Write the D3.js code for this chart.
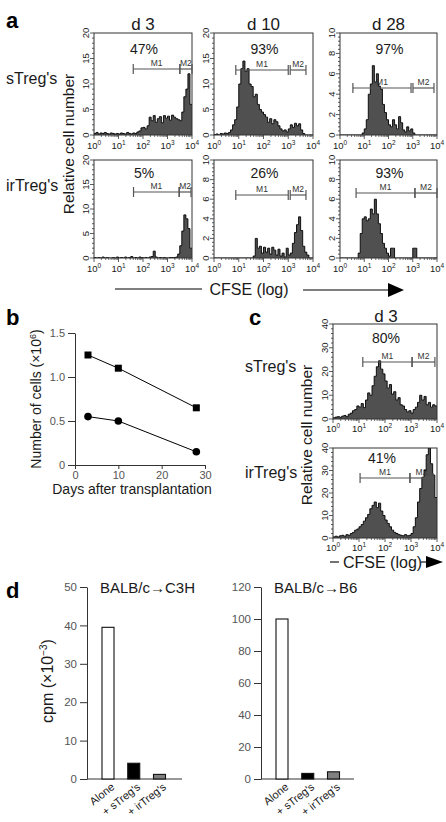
<!DOCTYPE html>
<html><head><meta charset="utf-8">
<script src="https://cdn.jsdelivr.net/npm/d3@7"></script>
<style>
html,body{margin:0;padding:0;background:#fff;}
svg{display:block;}
</style></head><body>
<svg id="fig" width="446" height="822"></svg>
<script>
// ---------------- DATA ----------------
const cfseDecades = [1, 10, 100, 1000, 10000];
const cfseDecadeExp = ["0", "1", "2", "3", "4"];
const histRowLabels = ["sTreg's", "irTreg's"];
const histDays = ["d 3", "d 10", "d 28"];
const pctSTreg = ["47%", "93%", "97%"];
const pctIrTreg = ["5%", "26%", "93%"];
const yMaxSTreg = [20, 20, 10];
const yMaxIrTreg = [20, 10, 10];

// histogram counts: 48 log-spaced bins from 10^0 to 10^4
const sTreg_d3 = [0.3,0.5,0.2,0.4,0.3,0.5,0.3,0.2,0.4,0.3,0.2,0.3,
  0.2,0.4,0.3,0.2,0.5,0.3,0.2,0.4,0.3,0.6,0.8,1.4,
  1.5,1.2,1.8,3.5,2.8,3.8,2.5,3.2,3.6,2.4,3.8,3.3,
  3.7,2.9,3.9,3.5,3.2,3.0,2.8,4.5,7.5,9.0,12.0,6.0];
const sTreg_d10 = [0.1,0.2,0.0,0.3,0.2,0.4,0.3,0.5,1.0,2.0,3.0,5.5,
  10.0,13.0,14.5,12.5,13.0,10.0,9.5,7.5,8.0,6.0,5.0,4.5,
  4.0,3.5,2.5,3.2,2.2,3.0,2.6,1.8,1.2,0.8,1.0,0.6,
  1.2,2.0,1.5,2.3,1.8,2.2,1.0,0.3,0,0,0,0];
const sTreg_d28 = [0,0,0,0,0,0,0,0,0,0,0,0.2,
  0.6,1.5,4.0,5.0,6.8,5.2,6.0,4.8,4.5,3.0,2.2,1.5,
  1.0,0.8,1.5,1.0,0.6,1.8,1.2,0.5,0.3,0.8,0.4,0.6,
  0.2,0,0,0,0,0,0,0,0,0,0,0];
const irTreg_d3 = [0.1,0,0.1,0,0.2,0,0.1,0,0,0.1,0,0.2,
  0,0.1,0,0.2,0,0.1,0.3,0,0.1,0,0.2,0.1,
  0,0.1,0,0.2,0.3,1.4,0.2,0,0.1,0,0.1,0,
  0,0.1,0.1,0.1,0.2,0.8,2.5,5.5,8.8,8.0,6.0,2.0];
const irTreg_d10 = [0,0,0,0,0,0,0,0,0,0,0,0,
  0,0,0,0,0,0,0,0.2,2.0,1.0,1.2,0.5,
  1.1,0.6,1.0,0.4,1.1,0.8,0.3,0.9,0.2,0.5,0.1,1.0,
  0.3,0.5,1.5,2.6,3.4,4.2,2.8,1.2,0.6,0.3,0,0];
const irTreg_d28 = [0,0,0,0,0,0,0,0,0,0.5,2.5,4.0,
  4.2,3.8,4.0,5.0,4.5,6.0,4.5,3.5,2.5,1.5,1.0,0.5,
  0.2,1.0,1.0,0,0,0,0,0,0,0,0,0,
  1.0,1.0,0,0,0,0,0,0,0,0,0,0];

// gates [M1 start, M1 end, M2 start, M2 end] in CFSE units
const gatesSTreg = [[40, 3200, 3200, 10000], [7.6, 1000, 1200, 5200], [3.4, 850, 1020, 7500]];
const gatesIrTreg = [[41, 3000, 3000, 9100], [7.6, 1000, 1200, 5200], [4.6, 1230, 1230, 10000]];

// panel c
const cDay = "d 3";
const cPct = ["80%", "41%"];
const cSTreg = [0.5,0.8,1.0,0.7,1.2,1.5,1.0,2.0,2.5,3.5,4.0,5.5,
  5.0,6.5,4.8,8.0,11.0,10.0,14.0,18.0,22.0,24.5,21.0,19.0,
  16.0,13.0,14.5,10.5,11.5,8.0,9.0,6.0,5.5,4.0,3.0,3.5,
  2.5,4.0,5.0,7.0,10.0,8.0,9.5,6.0,7.0,5.0,6.0,5.5];
const cIrTreg = [0.5,0.8,0.5,1.0,1.2,0.8,1.5,1.2,2.0,2.5,3.5,4.0,
  5.0,6.0,7.5,9.0,10.5,13.0,14.5,16.0,13.5,15.5,12.0,10.0,
  8.0,6.5,5.0,3.5,2.5,2.0,1.5,1.2,1.0,1.5,1.0,1.2,
  2.0,5.0,9.0,16.0,22.0,27.0,30.0,37.0,40.0,33.0,28.0,18.0];
const cGates = [[14, 1100, 1100, 8300], [11, 910, 910, 7000]];

// panel b
const bDays = [3, 10, 28];
const bSquares = [1.25, 1.10, 0.65];
const bCircles = [0.55, 0.50, 0.15];
const bYTicks = [0, 0.5, 1.0, 1.5];
const bXTicks = [0, 10, 20, 30];

// panel d
const dCategories = ["Alone", "+ sTreg's", "+ irTreg's"];
const dC3H = [39.5, 4.1, 1.2];
const dB6 = [100, 3.5, 4.5];
const dC3HTicks = [0, 10, 20, 30, 40, 50];
const dB6Ticks = [0, 20, 40, 60, 80, 100, 120];
const dTitles = ["BALB/c\u2192C3H", "BALB/c\u2192B6"];
const dBarFills = ["#ffffff", "#000000", "#808080"];

// ---------------- DRAWING ----------------
const FONT = "'Liberation Sans', Arial, Helvetica, sans-serif";
const svg = d3.select("#fig").attr("font-family", FONT);
const INK = "#1a1a1a";
let clipN = 0;

function panelLetter(t, x, y) {
  svg.append("text").attr("x", x).attr("y", y).attr("font-size", 22)
    .attr("font-weight", "bold").attr("fill", "#000").text(t);
}

function drawHist(box, data, ymax, gates, gateY, pct, pctY, tickLabY, pctDx) {
  const g = svg.append("g");
  const x = d3.scaleLog().domain([1, 1e4]).range([box.x0, box.x1]);
  const y = d3.scaleLinear().domain([0, ymax]).range([box.y1, box.y0]);
  const nb = data.length;
  const pts = data.map((v, i) => ({ e: Math.pow(10, 4 * i / nb), v }));
  pts.push({ e: 1e4, v: data[nb - 1] });
  const id = "clip" + (clipN++);
  g.append("clipPath").attr("id", id).append("rect")
    .attr("x", box.x0).attr("y", box.y0).attr("width", box.x1 - box.x0).attr("height", box.y1 - box.y0);
  const area = d3.area().curve(d3.curveStepAfter).x(d => x(d.e)).y0(y(0)).y1(d => y(Math.min(d.v, ymax)));
  const line = d3.line().curve(d3.curveStepAfter).x(d => x(d.e)).y(d => y(Math.min(d.v, ymax)));
  const hg = g.append("g").attr("clip-path", `url(#${id})`);
  hg.append("path").datum(pts).attr("d", area).attr("fill", "#505050");
  hg.append("path").datum(pts).attr("d", line).attr("fill", "none").attr("stroke", "#000").attr("stroke-width", 0.9);
  g.append("rect").attr("x", box.x0).attr("y", box.y0).attr("width", box.x1 - box.x0).attr("height", box.y1 - box.y0)
    .attr("fill", "none").attr("stroke", "#333").attr("stroke-width", 1);
  // y ticks
  const major = ymax === 20 ? 5 : (ymax === 10 ? 2 : 10);
  const minor = major / 5;
  d3.range(0, ymax + 1e-6, minor).forEach(v => {
    const isMaj = Math.abs(v / major - Math.round(v / major)) < 1e-6;
    g.append("line").attr("x1", box.x0).attr("x2", box.x0 - (isMaj ? 4 : 2))
      .attr("y1", y(v)).attr("y2", y(v)).attr("stroke", "#333").attr("stroke-width", 0.8);
    if (isMaj) {
      g.append("text").attr("transform", `translate(${box.x0 - 8},${y(v)}) rotate(-90)`)
        .attr("text-anchor", "middle").attr("dy", "0.35em").attr("font-size", 9.5).attr("fill", INK).text(v);
    }
  });
  // x ticks (log)
  cfseDecades.forEach((d, i) => {
    g.append("line").attr("x1", x(d)).attr("x2", x(d)).attr("y1", box.y1).attr("y2", box.y1 + 4)
      .attr("stroke", "#333").attr("stroke-width", 0.8);
    const t = g.append("text").attr("x", x(d)).attr("y", tickLabY).attr("text-anchor", "middle")
      .attr("font-size", 9.5).attr("fill", INK);
    t.append("tspan").text("10");
    t.append("tspan").attr("dy", -4).attr("font-size", 6.5).text(cfseDecadeExp[i]);
    if (i < 4) for (let k = 2; k <= 9; k++) {
      g.append("line").attr("x1", x(d * k)).attr("x2", x(d * k)).attr("y1", box.y1).attr("y2", box.y1 + 2)
        .attr("stroke", "#333").attr("stroke-width", 0.7);
    }
  });
  // gates
  [[gates[0], gates[1], "M1"], [gates[2], gates[3], "M2"]].forEach(([a, b, lab]) => {
    const xa = x(a), xb = Math.min(x(b), box.x1);
    g.append("line").attr("x1", xa).attr("x2", xb).attr("y1", gateY).attr("y2", gateY)
      .attr("stroke", "#555").attr("stroke-width", 1.2);
    [xa, xb].forEach(xx => g.append("line").attr("x1", xx).attr("x2", xx).attr("y1", gateY - 5).attr("y2", gateY + 5)
      .attr("stroke", "#555").attr("stroke-width", 1.2));
    g.append("text").attr("x", (xa + xb) / 2).attr("y", gateY - 3).attr("text-anchor", "middle")
      .attr("font-size", 8.5).attr("fill", "#333").text(lab);
  });
  g.append("text").attr("x", (box.x0 + box.x1) / 2 + 1 + (pctDx || 0)).attr("y", pctY).attr("text-anchor", "middle")
    .attr("font-size", 14).attr("fill", INK).text(pct);
}

// ---- Panel a ----
panelLetter("a", 6, 28);
const colsA = [{ x0: 94, x1: 192 }, { x0: 214, x1: 313 }, { x0: 340, x1: 437 }];
const rowsA = [
  { y0: 33, y1: 135, tickY: 148.5, gateY: [69, 70, 88], pctY: 54, labY: 84 },
  { y0: 160, y1: 258, tickY: 271.5, gateY: [192, 195, 193], pctY: 178, labY: 191 }
];
const rowData = [[sTreg_d3, sTreg_d10, sTreg_d28], [irTreg_d3, irTreg_d10, irTreg_d28]];
const rowMax = [yMaxSTreg, yMaxIrTreg];
const rowGates = [gatesSTreg, gatesIrTreg];
const rowPct = [pctSTreg, pctIrTreg];
histDays.forEach((d, c) => {
  svg.append("text").attr("x", (colsA[c].x0 + colsA[c].x1) / 2).attr("y", 30).attr("text-anchor", "middle")
    .attr("font-size", 17).attr("fill", INK).text(d);
});
rowsA.forEach((r, ri) => {
  svg.append("text").attr("x", 6).attr("y", r.labY).attr("font-size", 16).attr("fill", INK).text(histRowLabels[ri]);
  colsA.forEach((c, ci) => {
    drawHist({ x0: c.x0, x1: c.x1, y0: r.y0, y1: r.y1 }, rowData[ri][ci], rowMax[ri][ci],
      rowGates[ri][ci], r.gateY[ci], rowPct[ri][ci], r.pctY, r.tickY, 0);
  });
});
svg.append("text").attr("transform", "translate(69,144) rotate(-90)").attr("text-anchor", "middle")
  .attr("dy", "0.35em").attr("font-size", 15.5).attr("fill", INK).text("Relative cell number");
// CFSE arrow a
svg.append("line").attr("x1", 115).attr("x2", 202).attr("y1", 289).attr("y2", 289).attr("stroke", "#000").attr("stroke-width", 1.1);
svg.append("text").attr("x", 249).attr("y", 294.5).attr("text-anchor", "middle").attr("font-size", 16).attr("fill", INK).text("CFSE (log)");
svg.append("line").attr("x1", 303).attr("x2", 390).attr("y1", 290).attr("y2", 290).attr("stroke", "#000").attr("stroke-width", 1.1);
svg.append("path").attr("d", "M388,283 L404,290 L388,297 Z").attr("fill", "#000");

// ---- Panel b ----
panelLetter("b", 6, 325);
const xB = d3.scaleLinear().domain([0, 30]).range([75, 205]);
const yB = d3.scaleLinear().domain([0, 1.5]).range([465, 333]);
const gbY = svg.append("g").attr("transform", "translate(75,0)")
  .call(d3.axisLeft(yB).tickValues(bYTicks).tickSize(7).tickSizeOuter(0).tickFormat(d => d === 0 ? "0" : d.toFixed(1)));
const gbX = svg.append("g").attr("transform", "translate(0,465)")
  .call(d3.axisBottom(xB).tickValues(bXTicks).tickSize(4).tickPadding(2).tickSizeOuter(0));
[gbY, gbX].forEach(g => {
  g.selectAll("path,line").attr("stroke", "#333");
  g.selectAll("text").attr("font-family", FONT).attr("font-size", 11).attr("fill", "#555");
});
const lineB = d3.line().x((d, i) => xB(bDays[i])).y(d => yB(d));
svg.append("path").datum(bSquares).attr("d", lineB).attr("fill", "none").attr("stroke", "#000").attr("stroke-width", 1);
svg.append("path").datum(bCircles).attr("d", lineB).attr("fill", "none").attr("stroke", "#000").attr("stroke-width", 1);
svg.selectAll(".sq").data(bSquares).enter().append("rect")
  .attr("x", (d, i) => xB(bDays[i]) - 3.5).attr("y", d => yB(d) - 3.5).attr("width", 7).attr("height", 7).attr("fill", "#000");
svg.selectAll(".ci").data(bCircles).enter().append("circle")
  .attr("cx", (d, i) => xB(bDays[i])).attr("cy", d => yB(d)).attr("r", 3.8).attr("fill", "#000");
svg.append("text").attr("x", 132).attr("y", 494).attr("text-anchor", "middle").attr("font-size", 14).attr("fill", INK)
  .text("Days after transplantation");
const byl = svg.append("text").attr("transform", "translate(36,399) rotate(-90)").attr("text-anchor", "middle")
  .attr("dy", "0.35em").attr("font-size", 14).attr("fill", INK);
byl.append("tspan").text("Number of cells (\u00d710");
byl.append("tspan").attr("dy", -5).attr("font-size", 9).text("6");
byl.append("tspan").attr("dy", 5).text(")");

// ---- Panel c ----
panelLetter("c", 249, 325);
svg.append("text").attr("x", 386).attr("y", 322).attr("text-anchor", "middle").attr("font-size", 17).attr("fill", INK).text(cDay);
const cBoxes = [{ x0: 333, x1: 437, y0: 324, y1: 419 }, { x0: 333, x1: 437, y0: 448, y1: 538 }];
const cData = [cSTreg, cIrTreg];
const cGateY = [362, 478];
const cPctY = [343, 463];
const cPctDx = [0, -4];
const cTickY = [431.5, 550.5];
const cLabY = [372, 478];
cBoxes.forEach((b, i) => {
  drawHist(b, cData[i], 40, cGates[i], cGateY[i], cPct[i], cPctY[i], cTickY[i], cPctDx[i]);
  svg.append("text").attr("x", 245).attr("y", cLabY[i]).attr("font-size", 16).attr("fill", INK).text(histRowLabels[i]);
});
svg.append("text").attr("transform", "translate(307,435) rotate(-90)").attr("text-anchor", "middle")
  .attr("dy", "0.35em").attr("font-size", 15.5).attr("fill", INK).text("Relative cell number");
svg.append("line").attr("x1", 330).attr("x2", 339).attr("y1", 562).attr("y2", 562).attr("stroke", "#000").attr("stroke-width", 1.1);
svg.append("text").attr("x", 343).attr("y", 567.5).attr("font-size", 16).attr("fill", INK).text("CFSE (log)");
svg.append("line").attr("x1", 421).attr("x2", 428).attr("y1", 562).attr("y2", 562).attr("stroke", "#000").attr("stroke-width", 1.1);
svg.append("path").attr("d", "M426,556 L443,562 L426,568 Z").attr("fill", "#000");

// ---- Panel d ----
panelLetter("d", 6, 598);
function barChart(axisX, xEnd, centers, ymax, ticks, vals, title) {
  const y = d3.scaleLinear().domain([0, ymax]).range([779, 587]);
  const x = d3.scalePoint().domain(dCategories).range(centers);
  const ga = svg.append("g").attr("transform", `translate(${axisX},0)`)
    .call(d3.axisLeft(y).tickValues(ticks).tickSize(7).tickSizeOuter(0));
  ga.selectAll("path,line").attr("stroke", "#333");
  ga.selectAll("text").attr("font-family", FONT).attr("font-size", 11.5).attr("fill", "#555");
  svg.append("line").attr("x1", axisX).attr("x2", xEnd).attr("y1", 779).attr("y2", 779).attr("stroke", "#333");
  svg.selectAll(null).data(vals).enter().append("rect")
    .attr("x", (d, i) => x(dCategories[i]) - 6).attr("width", 12)
    .attr("y", d => y(d)).attr("height", d => 779 - y(d))
    .attr("fill", (d, i) => dBarFills[i]).attr("stroke", "#111").attr("stroke-width", 1.1);
  dCategories.forEach(c => {
    svg.append("text").attr("transform", `translate(${x(c) + 4},784) rotate(-38)`).attr("text-anchor", "end")
      .attr("dy", "0.5em").attr("font-size", 11).attr("fill", INK).text(c);
  });
  svg.append("text").attr("x", axisX + 13).attr("y", 593).attr("font-size", 15).attr("fill", INK).text(title);
}
barChart(87, 182, [108, 159.5], 50, dC3HTicks, dC3H, dTitles[0]);
barChart(261, 354, [282, 333.5], 120, dB6Ticks, dB6, dTitles[1]);
const dyl = svg.append("text").attr("transform", "translate(47,681) rotate(-90)").attr("text-anchor", "middle")
  .attr("dy", "0.35em").attr("font-size", 16).attr("fill", INK);
dyl.append("tspan").text("cpm (\u00d710");
dyl.append("tspan").attr("dy", -6).attr("font-size", 10).text("\u22123");
dyl.append("tspan").attr("dy", 6).text(")");
</script>
</body></html>
